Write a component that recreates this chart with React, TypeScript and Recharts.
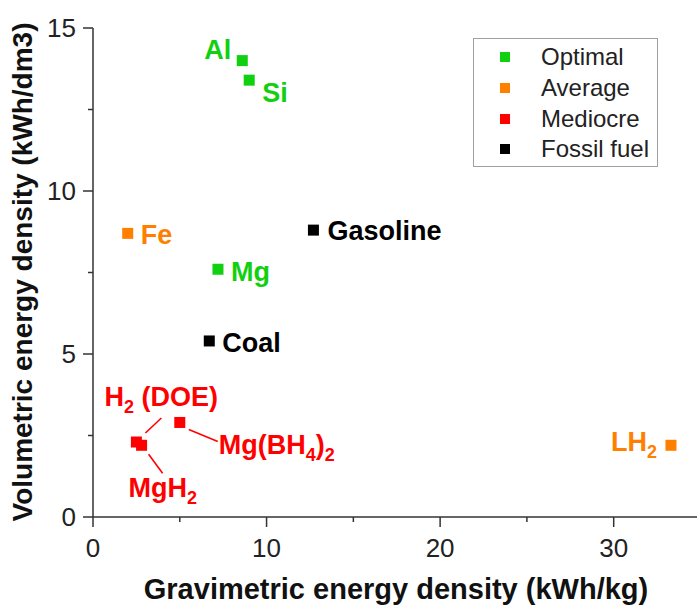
import { ScatterChart, Scatter, XAxis, YAxis, Legend } from "recharts";

const optimal = [
  { name: "Al", x: 8.6, y: 14.0 },
  { name: "Si", x: 9.0, y: 13.4 },
  { name: "Mg", x: 7.2, y: 7.6 },
];
const average = [
  { name: "Fe", x: 2.0, y: 8.7 },
  { name: "LH2", x: 33.3, y: 2.2 },
];
const mediocre = [
  { name: "H2 (DOE)", x: 2.5, y: 2.3 },
  { name: "MgH2", x: 2.8, y: 2.2 },
  { name: "Mg(BH4)2", x: 5.0, y: 2.9 },
];
const fossil = [
  { name: "Gasoline", x: 12.7, y: 8.8 },
  { name: "Coal", x: 6.7, y: 5.4 },
];

const seriesOrder = ["Optimal", "Average", "Mediocre", "Fossil fuel"];
const xTicks = [0, 5, 10, 15, 20, 25, 30];
const yTicks = [0, 2.5, 5, 7.5, 10, 12.5, 15];

const FONT = '"Liberation Sans", Arial, Helvetica, sans-serif';
const GREEN = "#10d010";
const ORANGE = "#ff8000";
const RED = "#ff0000";
const BLACK = "#000000";

type Part = { t: string; sub?: boolean };
type LabelStyle = {
  parts: Part[];
  dx: number;
  dy: number;
  anchor: "start" | "end";
  line?: [number, number, number, number];
};

// label placement around each marker (pixels, relative to marker centre)
const labelLayout: Record<string, LabelStyle> = {
  Al: { parts: [{ t: "Al" }], dx: -11, dy: -12, anchor: "end" },
  Si: { parts: [{ t: "Si" }], dx: 13, dy: 12, anchor: "start" },
  Mg: { parts: [{ t: "Mg" }], dx: 13, dy: 2, anchor: "start" },
  Fe: { parts: [{ t: "Fe" }], dx: 13, dy: 1, anchor: "start" },
  LH2: { parts: [{ t: "LH" }, { t: "2", sub: true }], dx: -14, dy: -4, anchor: "end" },
  "H2 (DOE)": {
    parts: [{ t: "H" }, { t: "2", sub: true }, { t: " (DOE)" }],
    dx: -32,
    dy: -46,
    anchor: "start",
    line: [25, -24, 9, -9],
  },
  MgH2: {
    parts: [{ t: "MgH" }, { t: "2", sub: true }],
    dx: -13,
    dy: 42,
    anchor: "start",
    line: [7, 9, 21, 28],
  },
  "Mg(BH4)2": {
    parts: [{ t: "Mg(BH" }, { t: "4", sub: true }, { t: ")" }, { t: "2", sub: true }],
    dx: 39,
    dy: 22,
    anchor: "start",
    line: [9, 7, 38, 19],
  },
  Gasoline: { parts: [{ t: "Gasoline" }], dx: 14, dy: 0, anchor: "start" },
  Coal: { parts: [{ t: "Coal" }], dx: 13, dy: 1, anchor: "start" },
};

const makeShape = (color: string) => (props: any) => {
  const { cx, cy, payload } = props;
  const lay = labelLayout[payload.name];
  const s = 11;
  let shift = 0;
  return (
    <g>
      <rect x={cx - s / 2} y={cy - s / 2} width={s} height={s} fill={color} />
      {lay && lay.line && (
        <line
          x1={cx + lay.line[0]}
          y1={cy + lay.line[1]}
          x2={cx + lay.line[2]}
          y2={cy + lay.line[3]}
          stroke={color}
          strokeWidth={1.6}
        />
      )}
      {lay && (
        <text
          x={cx + lay.dx}
          y={cy + lay.dy + 10}
          textAnchor={lay.anchor}
          fontFamily={FONT}
          fontWeight="bold"
          fontSize={27}
          fill={color}
        >
          {lay.parts.map((p, i) => {
            let d = 0;
            if (p.sub && shift === 0) {
              d = 7;
              shift = 7;
            } else if (!p.sub && shift !== 0) {
              d = -7;
              shift = 0;
            }
            return (
              <tspan key={i} dy={d} fontSize={p.sub ? 18 : 27}>
                {p.t}
              </tspan>
            );
          })}
        </text>
      )}
    </g>
  );
};

const XTick = (props: any) => {
  const { x, y, payload } = props;
  const major = payload.value % 10 === 0;
  return (
    <g>
      <line x1={x} y1={y} x2={x} y2={y + (major ? 10 : 5)} stroke="#333" strokeWidth={1.5} />
      {major && (
        <text x={x} y={y + 40} textAnchor="middle" fontFamily={FONT} fontSize={26} fill="#222">
          {payload.value}
        </text>
      )}
    </g>
  );
};

const YTick = (props: any) => {
  const { x, y, payload } = props;
  const major = payload.value % 5 === 0;
  return (
    <g>
      <line x1={x - (major ? 10 : 5)} y1={y} x2={x} y2={y} stroke="#333" strokeWidth={1.5} />
      {major && (
        <text x={x - 17} y={y + 9} textAnchor="end" fontFamily={FONT} fontSize={26} fill="#222">
          {payload.value}
        </text>
      )}
    </g>
  );
};

const LegendBox = (props: any) => {
  const items = [...(props.payload || [])].sort(
    (a: any, b: any) => seriesOrder.indexOf(a.value) - seriesOrder.indexOf(b.value)
  );
  return (
    <div
      style={{
        width: 185,
        height: 129,
        boxSizing: "border-box",
        border: "1.5px solid #a0a0a0",
        paddingTop: 3,
        background: "#fff",
        fontFamily: FONT,
      }}
    >
      {items.map((p: any) => (
        <div key={p.value} style={{ display: "flex", alignItems: "center", height: 30.7 }}>
          <span
            style={{ display: "inline-block", width: 10, height: 10, background: p.color, marginLeft: 26 }}
          />
          <span style={{ marginLeft: 31, fontSize: 24, color: "#222", lineHeight: "30px" }}>{p.value}</span>
        </div>
      ))}
    </div>
  );
};

export default function App() {
  return (
    <div style={{ width: 697, height: 611, background: "#fff" }}>
      <style>{`body{margin:0}`}</style>
      <ScatterChart width={697} height={611} margin={{ top: 28, right: 0, bottom: 0, left: 0 }}>
        <XAxis
          type="number"
          dataKey="x"
          domain={[0, 34.8]}
          ticks={xTicks}
          interval={0}
          height={94}
          tickSize={0}
          tickMargin={0}
          tick={<XTick />}
          axisLine={{ stroke: "#333", strokeWidth: 1.5 }}
          allowDataOverflow
          label={{
            content: () => (
              <text x={396} y={599} textAnchor="middle" fontFamily={FONT} fontWeight="bold" fontSize={29} fill="#111">
                Gravimetric energy density (kWh/kg)
              </text>
            ),
          }}
        />
        <YAxis
          type="number"
          dataKey="y"
          domain={[0, 15]}
          ticks={yTicks}
          interval={0}
          width={93}
          tickSize={0}
          tickMargin={0}
          tick={<YTick />}
          axisLine={{ stroke: "#333", strokeWidth: 1.5 }}
          allowDataOverflow
          label={{
            content: () => (
              <text
                x={0}
                y={0}
                transform="translate(32 272) rotate(-90)"
                textAnchor="middle"
                fontFamily={FONT}
                fontWeight="bold"
                fontSize={28}
                fill="#111"
              >
                Volumetric energy density (kWh/dm3)
              </text>
            ),
          }}
        />
        <Legend
          layout="vertical"
          align="center"
          verticalAlign="middle"
          content={<LegendBox />}
          wrapperStyle={{ left: 473, top: 38, width: 185, height: 129 }}
        />
        <Scatter name="Optimal" data={optimal} fill={GREEN} legendType="square" shape={makeShape(GREEN)} isAnimationActive={false} />
        <Scatter name="Average" data={average} fill={ORANGE} legendType="square" shape={makeShape(ORANGE)} isAnimationActive={false} />
        <Scatter name="Mediocre" data={mediocre} fill={RED} legendType="square" shape={makeShape(RED)} isAnimationActive={false} />
        <Scatter name="Fossil fuel" data={fossil} fill={BLACK} legendType="square" shape={makeShape(BLACK)} isAnimationActive={false} />
      </ScatterChart>
    </div>
  );
}
